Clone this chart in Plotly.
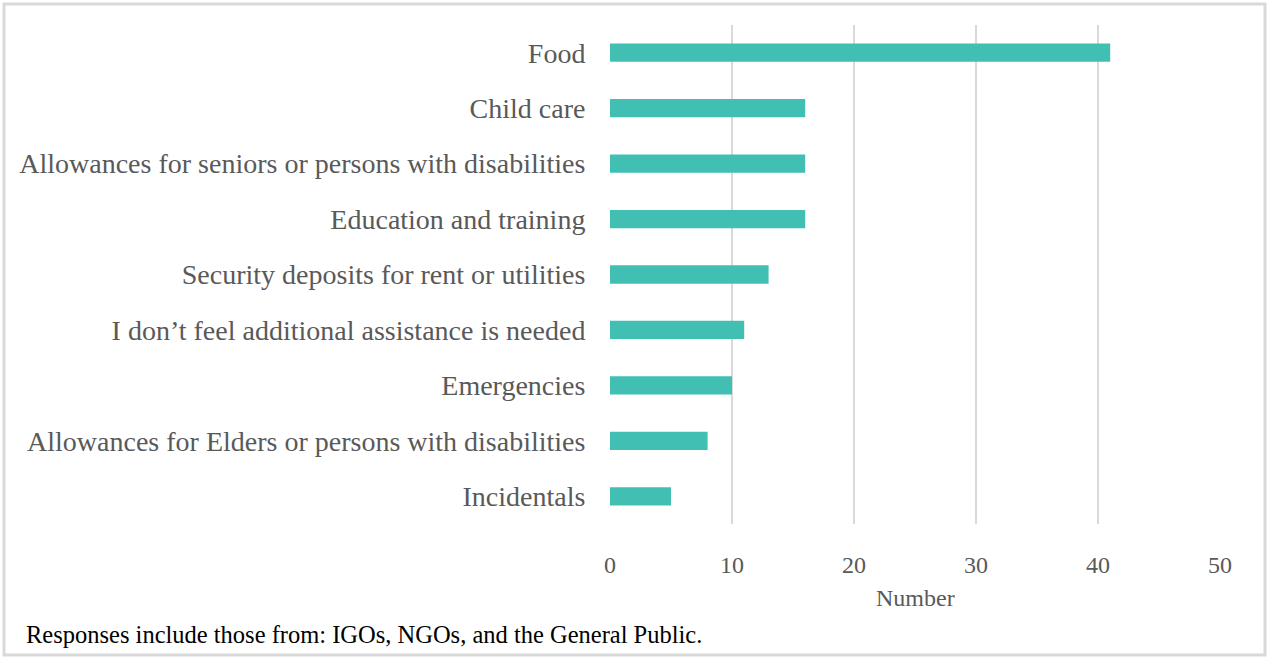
import plotly.graph_objects as go

categories = [
    "Food",
    "Child care",
    "Allowances for seniors or persons with disabilities",
    "Education and training",
    "Security deposits for rent or utilities",
    "I don\u2019t feel additional assistance is needed",
    "Emergencies",
    "Allowances for Elders or persons with disabilities",
    "Incidentals",
]
values = [41, 16, 16, 16, 13, 11, 10, 8, 5]
x_ticks = [0, 10, 20, 30, 40, 50]
x_title = "Number"
footnote = "Responses include those from: IGOs, NGOs, and the General Public."

W, H = 1268, 657
L, R, T, B = 610, 48, 25, 133
pw, ph = W - L - R, H - T - B

def px_x(p):
    return (p - L) / pw

def px_y(p):
    return (H - B - p) / ph

SERIF = "Liberation Serif"
GRAY = "#595959"

fig = go.Figure(go.Bar(
    x=values, y=categories, orientation="h",
    marker=dict(color="#41BFB3", line=dict(width=0)),
    width=0.33,
))

fig.update_layout(
    width=W, height=H,
    margin=dict(l=L, r=R, t=T, b=B, pad=0),
    paper_bgcolor="white", plot_bgcolor="white",
    showlegend=False,
    font=dict(family=SERIF, color=GRAY, size=22),
    xaxis=dict(
        range=[0, 50], tickvals=x_ticks, showgrid=True,
        gridcolor="#D9D9D9", gridwidth=1.5, zeroline=False,
        showline=False, ticks="outside", ticklen=19, tickcolor="rgba(0,0,0,0)",
        tickfont=dict(family=SERIF, size=24, color=GRAY), fixedrange=True,
    ),
    yaxis=dict(
        categoryorder="array", categoryarray=categories[::-1],
        range=[-0.5, len(categories) - 0.5],
        showgrid=False, zeroline=False, showline=False,
        ticks="outside", ticklen=18, tickcolor="rgba(0,0,0,0)",
        tickfont=dict(family=SERIF, size=28, color=GRAY), fixedrange=True,
    ),
    annotations=[
        dict(text=x_title, xref="paper", yref="paper", x=0.5, y=px_y(598),
             xanchor="center", yanchor="middle", showarrow=False,
             font=dict(family=SERIF, size=24, color=GRAY)),
        dict(text=footnote, xref="paper", yref="paper", x=px_x(24), y=px_y(634),
             xanchor="left", yanchor="middle", showarrow=False,
             font=dict(family=SERIF, size=24.5, color="#000000")),
    ],
    shapes=[
        dict(type="rect", xref="paper", yref="paper",
             x0=px_x(4), x1=px_x(1265), y0=px_y(655), y1=px_y(4),
             line=dict(color="#D9D9D9", width=3), layer="below"),
    ],
)

fig.write_html("out.html")
